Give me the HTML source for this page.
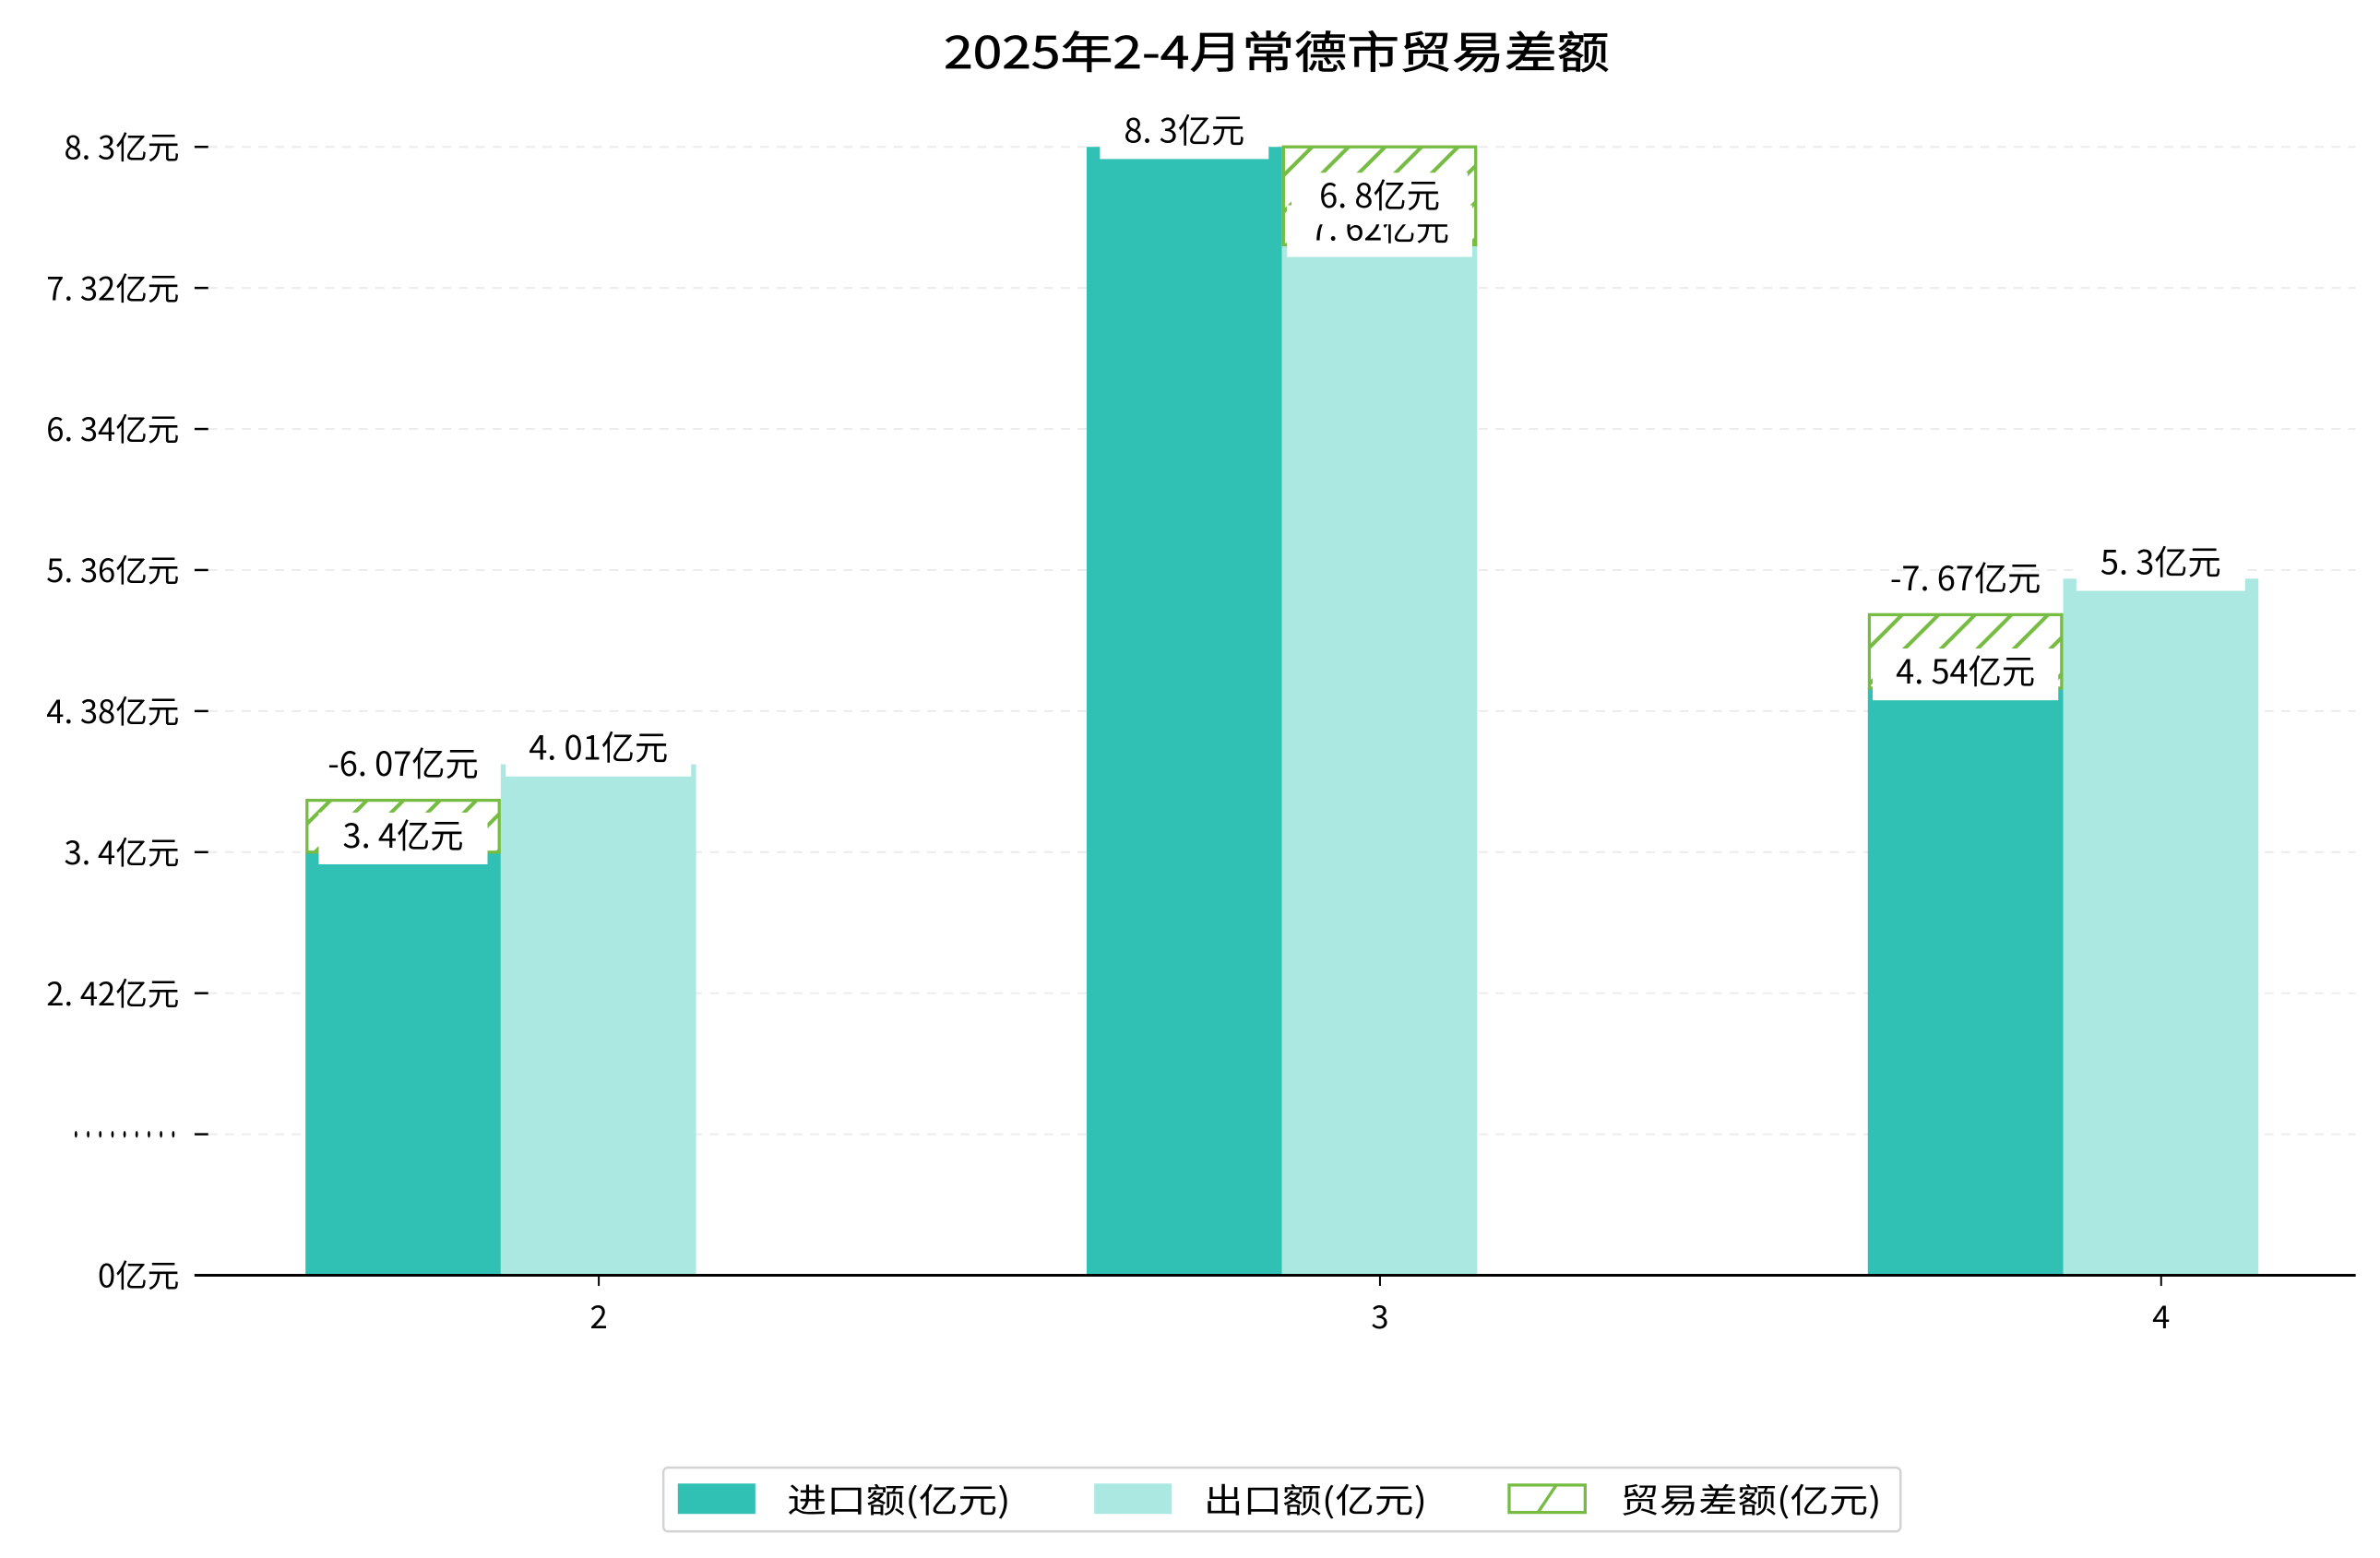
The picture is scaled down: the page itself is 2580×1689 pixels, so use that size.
<!DOCTYPE html>
<html><head><meta charset="utf-8">
<style>
html,body{margin:0;padding:0;background:#fff;}
svg{display:block;}
text{font-family:"WenQuanYi Zen Hei","Noto Sans CJK SC",sans-serif;}
</style></head>
<body>
<svg id="chart" width="2580" height="1689" viewBox="0 0 1566 1025" preserveAspectRatio="none" xmlns="http://www.w3.org/2000/svg">
<defs>
<pattern id="hatch" patternUnits="userSpaceOnUse" width="24" height="24">
<line x1="-6" y1="30" x2="30" y2="-6" stroke="#76bc43" stroke-width="2.5"/>
<line x1="-18" y1="18" x2="18" y2="-18" stroke="#76bc43" stroke-width="2.5"/>
<line x1="6" y1="42" x2="42" y2="6" stroke="#76bc43" stroke-width="2.5"/>
</pattern>
</defs>
<text x="621" y="45" font-size="29" textLength="438" lengthAdjust="spacingAndGlyphs" fill="#000" stroke="#000" stroke-width="0.4">2025年2-4月常德市贸易差额</text>
<g id="grid"></g><g id="bars"></g><g id="labels"></g><g id="axes"></g>
<g>
<rect x="436.5" y="965.5" width="814" height="42" rx="3" fill="#fff" stroke="#d3d3d3" stroke-width="1.5"/>
<rect x="446" y="976" width="51" height="20" fill="#31c1b4"/>
<text x="518" y="995" font-size="22" textLength="147" lengthAdjust="spacingAndGlyphs">进口额(亿元)</text>
<rect x="720" y="976" width="51" height="20" fill="#abe8e2"/>
<text x="792" y="995" font-size="22" textLength="147" lengthAdjust="spacingAndGlyphs">出口额(亿元)</text>
<rect x="993" y="977" width="50" height="18" fill="#fff" stroke="#76bc43" stroke-width="2"/>
<line x1="1012" y1="995" x2="1024" y2="977" stroke="#76bc43" stroke-width="2"/>
<text x="1066" y="995" font-size="22" textLength="172" lengthAdjust="spacingAndGlyphs">贸易差额(亿元)</text>
</g>
</svg>
<script>
const categories = ["2","3","4"];
const importVals = [3.4, 8.3, 4.54];
const exportVals = [4.01, 7.62, 5.3];
const balanceLabels = ["-6.07亿元","6.8亿元","-7.67亿元"];
const balBottom = [3.4, 7.62, 4.54];
const balTop = [3.76, 8.3, 5.05];
const balSlot = [0, 1, 0];
const tickVals = [0.46, 1.44, 2.42, 3.4, 4.38, 5.36, 6.34, 7.32, 8.3];
const tickLabels = ["0亿元","·········","2. 42亿元","3. 4亿元","4. 38亿元","5. 36亿元","6. 34亿元","7. 32亿元","8. 3亿元"];

const NS="http://www.w3.org/2000/svg";
const yMin=0.46, y0=839, pxPerUnit=94.69;
function y(v){return y0-(v-yMin)*pxPerUnit;}
function xc(i){return 394+i*514;}
const bw=128.5;
function slotX(i,s){return xc(i)-193+s*bw;}
function mk(tag,attrs,parent){const e=document.createElementNS(NS,tag);for(const k in attrs)e.setAttribute(k,attrs[k]);parent.appendChild(e);return e;}
const grid=document.getElementById('grid'),bars=document.getElementById('bars'),labels=document.getElementById('labels'),axes=document.getElementById('axes');

tickVals.forEach((v,k)=>{
  const gl=mk('line',{x1:137,x2:1550,y1:y(v),y2:y(v),stroke:'#ececec','stroke-dasharray':'6,5','stroke-width':1.2},grid);
  
  
  const tk=mk('line',{x1:128,x2:137,y1:y(v),y2:y(v),stroke:'#000','stroke-width':1.5},axes);
  
  
  const t=mk('text',{x:118,y:y(v)+8,'font-size':21,'text-anchor':'end'},axes);
  if(tickLabels[k].indexOf('·')===0){t.setAttribute('textLength','72');t.setAttribute('lengthAdjust','spacingAndGlyphs');}
  t.textContent=tickLabels[k];
  
  
});

function valLabel(x,base,txt,w){
  const r=mk('rect',{x:x-w/2,y:base-23,width:w,height:34,fill:'#fff'},labels);
  
  
  const t=mk('text',{x:x,y:base,'font-size':22,'text-anchor':'middle'},labels);
  t.textContent=txt;
  
  
}
function fmt(v){return String(v).replace('.', '. ')+'亿元';}
function bw2(v){return String(v).length>3?122:111;}

categories.forEach((c,i)=>{
  const bi=mk('rect',{x:slotX(i,0),y:y(importVals[i]),width:bw,height:y0-y(importVals[i]),fill:'#31c1b4'},bars);
  
  
  const be=mk('rect',{x:slotX(i,1),y:y(exportVals[i]),width:bw,height:y0-y(exportVals[i]),fill:'#abe8e2'},bars);
  
  
  valLabel(slotX(i,0)+bw/2,y(importVals[i])-3,fmt(importVals[i]),bw2(importVals[i]));
  valLabel(slotX(i,1)+bw/2,y(exportVals[i])-3,fmt(exportVals[i]),bw2(exportVals[i]));
  const xt=mk('line',{x1:xc(i),x2:xc(i),y1:y0,y2:y0+7,stroke:'#000','stroke-width':1.2},axes);
  
  
  const xl=mk('text',{x:xc(i),y:y0+35,'font-size':21,'text-anchor':'middle'},axes);
  xl.textContent=c;
  
  
});

categories.forEach((c,i)=>{
  const bx=slotX(i,balSlot[i]), top=y(balTop[i]), bot=y(balBottom[i]);
  const hb=mk('rect',{x:bx+1,y:top,width:bw-2,height:bot-top,fill:'url(#hatch)',stroke:'#76bc43','stroke-width':2},bars);
  
  
  const cx=bx+bw/2;
  if(top-24<75){
    valLabel(cx,top+40,balanceLabels[i].replace('.', '. '),116);
  } else {
    const t=mk('text',{x:cx,y:top-16,'font-size':22,'text-anchor':'middle'},labels);
    t.textContent=balanceLabels[i].replace('.', '. ');
    
    
  }
});
categories.forEach((c,i)=>{
  if(balSlot[i]===0) valLabel(slotX(i,0)+bw/2,y(importVals[i])-3,fmt(importVals[i]),bw2(importVals[i]));
});

const sp=mk('line',{x1:128,x2:1550,y1:y0,y2:y0,stroke:'#000','stroke-width':1.8},axes);


</script>
</body></html>
